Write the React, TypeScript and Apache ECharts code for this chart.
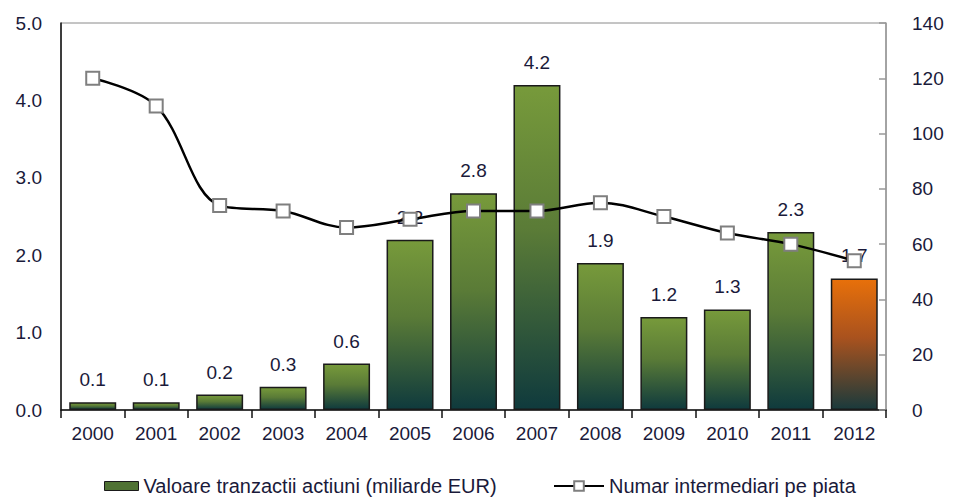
import React, { useEffect, useRef } from "react";
import * as echarts from "echarts";

const years = ["2000","2001","2002","2003","2004","2005","2006","2007","2008","2009","2010","2011","2012"];
const valoare = [0.1, 0.1, 0.2, 0.3, 0.6, 2.2, 2.8, 4.2, 1.9, 1.2, 1.3, 2.3, 1.7];
const intermediari = [120, 110, 74, 72, 66, 69, 72, 72, 75, 70, 64, 60, 54];

const FONT = "'Liberation Sans', Arial, sans-serif";
const TXT = "#1a1a3a";
const BAR_NAME = "Valoare tranzactii actiuni (miliarde EUR)";
const LINE_NAME = "Numar intermediari pe piata";

export default function App() {
  const ref = useRef<HTMLDivElement>(null);
  useEffect(() => {
    if (!ref.current) return;
    const chart = echarts.init(ref.current, undefined, { renderer: "svg" });
    const green = new echarts.graphic.LinearGradient(0, 0, 0, 1, [
      { offset: 0, color: "#779a3b" },
      { offset: 0.45, color: "#5a7b37" },
      { offset: 1, color: "#0f3a3d" },
    ]);
    const orange = new echarts.graphic.LinearGradient(0, 0, 0, 1, [
      { offset: 0, color: "#e8700a" },
      { offset: 0.45, color: "#a9521e" },
      { offset: 1, color: "#1a3a3c" },
    ]);
    chart.setOption({
      animation: false,
      textStyle: { fontFamily: FONT },
      grid: { left: 61, right: 69, top: 23, bottom: 87, show: true, borderColor: "#8a8a8a", borderWidth: 1 },
      legend: [
        {
          left: 99,
          top: 471,
          itemWidth: 34,
          itemHeight: 9,
          textStyle: { fontFamily: FONT, fontSize: 20, color: TXT },
          data: [{ name: BAR_NAME, icon: "rect", itemStyle: { color: "#4f7233", borderColor: "#1a1a1a", borderWidth: 1 } }],
        },
        {
          left: 548,
          top: 471,
          itemWidth: 50,
          itemHeight: 12,
          textStyle: { fontFamily: FONT, fontSize: 20, color: TXT },
          data: [{ name: LINE_NAME }],
        },
      ],
      xAxis: {
        type: "category",
        data: years,
        axisLine: { lineStyle: { color: "#111", width: 1.5 } },
        axisTick: { show: true, length: 8, lineStyle: { color: "#111", width: 1.5 } },
        axisLabel: { fontSize: 19, color: TXT, margin: 14, fontFamily: FONT },
      },
      yAxis: [
        {
          type: "value",
          min: 0,
          max: 5,
          interval: 1,
          axisLine: { show: true, lineStyle: { color: "#111", width: 1.5 } },
          axisTick: { show: false },
          splitLine: { show: false },
          axisLabel: { fontSize: 19, color: TXT, margin: 19, fontFamily: FONT, formatter: (v: number) => v.toFixed(1) },
        },
        {
          type: "value",
          min: 0,
          max: 140,
          interval: 20,
          position: "right",
          axisLine: { show: true, lineStyle: { color: "#999", width: 1.5 } },
          axisTick: { show: true, inside: true, length: 7, lineStyle: { color: "#999", width: 1.5 } },
          splitLine: { show: false },
          axisLabel: { fontSize: 19, color: TXT, margin: 26, fontFamily: FONT },
        },
      ],
      series: [
        {
          name: BAR_NAME,
          type: "bar",
          yAxisIndex: 0,
          barCategoryGap: "26%",
          data: valoare.map((v, i) => ({
            value: v,
            itemStyle: { color: i === valoare.length - 1 ? orange : green, borderColor: "#1a1a1a", borderWidth: 1.5 },
          })),
          itemStyle: { color: green, borderColor: "#1a1a1a", borderWidth: 1.5 },
          label: {
            show: true,
            position: "top",
            distance: 13,
            fontSize: 19,
            color: TXT,
            fontFamily: FONT,
            formatter: (p: any) => Number(p.value).toFixed(1),
          },
        },
        {
          name: LINE_NAME,
          type: "line",
          yAxisIndex: 1,
          data: intermediari,
          smooth: 0.35,
          symbol: "rect",
          symbolSize: 13,
          lineStyle: { color: "#000", width: 2.5 },
          itemStyle: { color: "#fff", borderColor: "#7f7f7f", borderWidth: 2 },
          z: 5,
        },
      ],
    });
    return () => chart.dispose();
  }, []);
  return <div ref={ref} style={{ width: 955, height: 497, position: "absolute", left: 0, top: 0 }} />;
}
